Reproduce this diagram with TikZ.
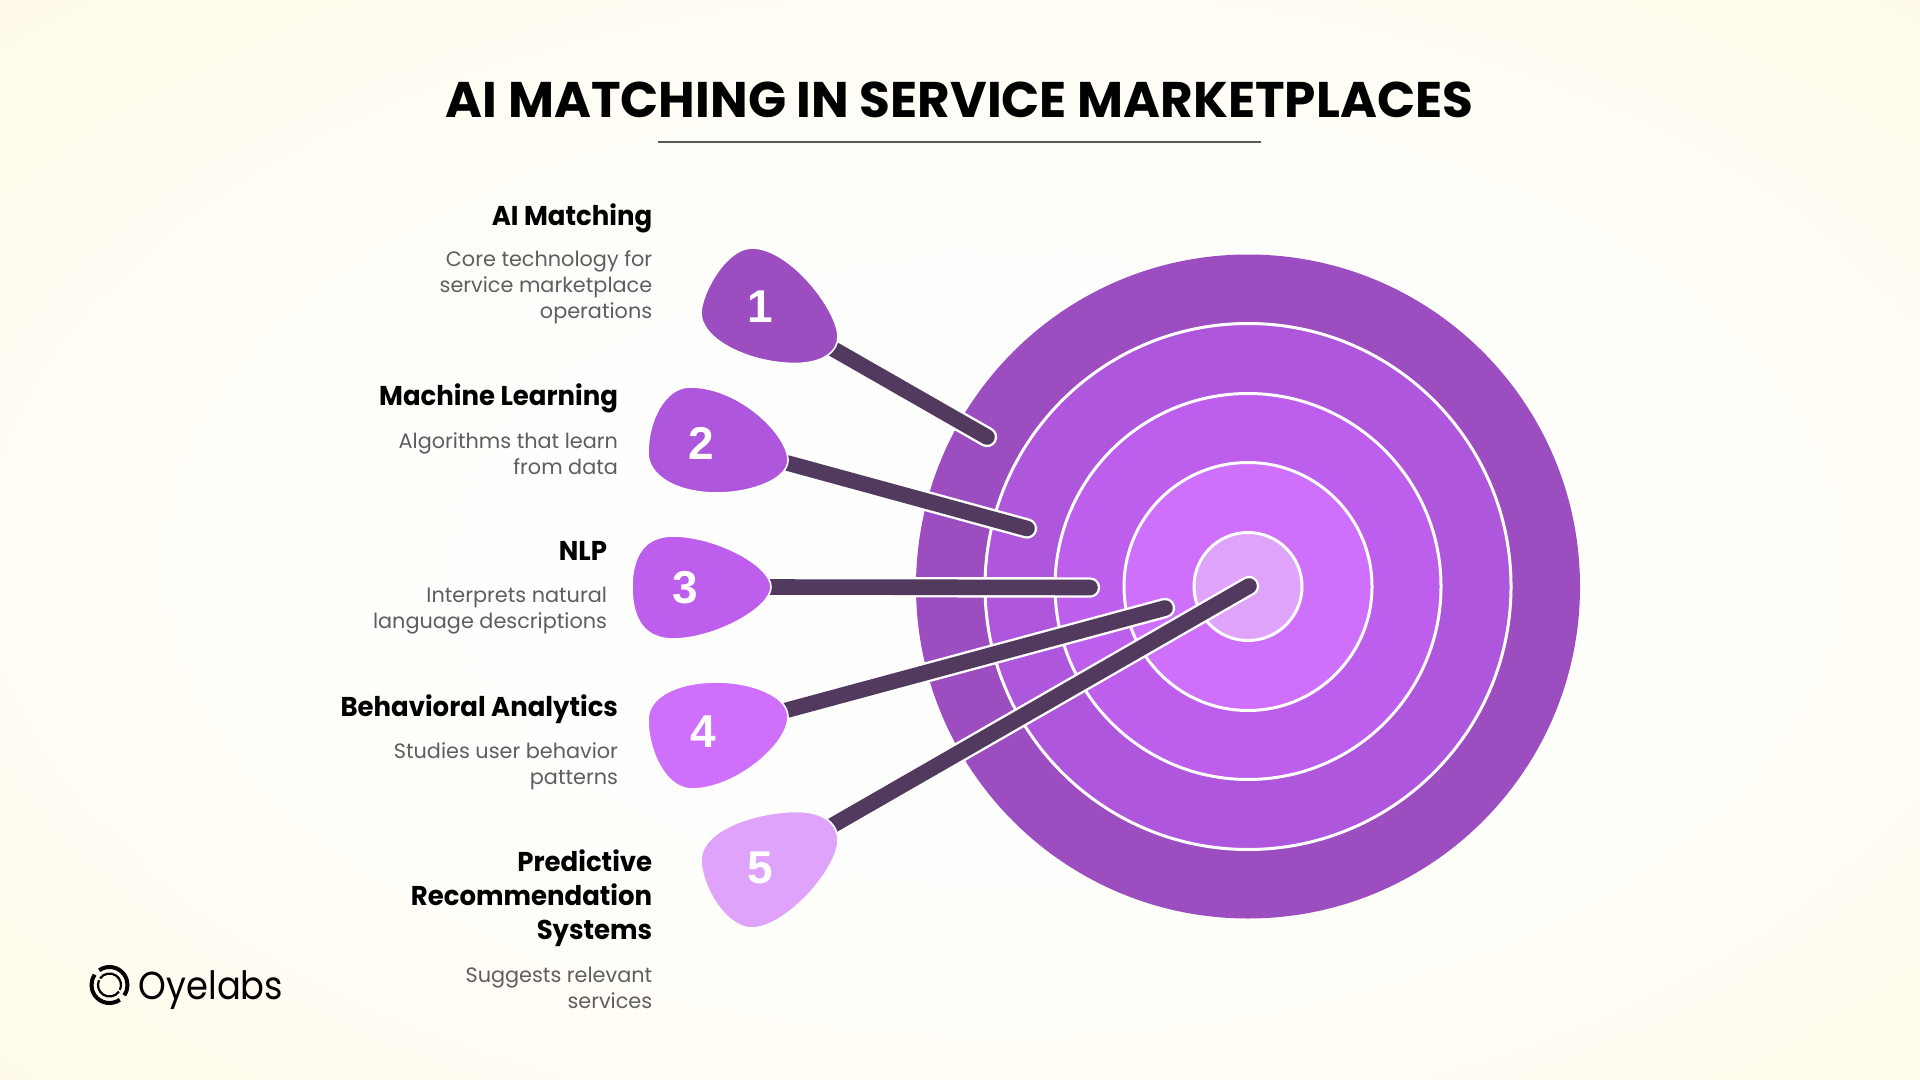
\documentclass[tikz,border=0pt]{standalone}
\usepackage{fontspec}
\setmainfont{Poppins}
\newfontfamily\numfont{Liberation Sans}
\newfontfamily\headfont[FakeStretch=0.955]{Poppins}
\newfontfamily\logofont[FakeStretch=0.905]{Poppins}
\definecolor{bgedge}{HTML}{FFF7DA}
\definecolor{bgouter}{HTML}{FFFBE6}
\definecolor{bgmid}{HTML}{FFFDF3}
\definecolor{bgcore}{HTML}{FEFEFC}
\definecolor{rA}{HTML}{9C4DC0}
\definecolor{rB}{HTML}{AE56DC}
\definecolor{rC}{HTML}{BD5EEC}
\definecolor{rD}{HTML}{CE70FC}
\definecolor{rE}{HTML}{DFA3FC}
\definecolor{shaftc}{HTML}{513A5E}
\definecolor{descc}{HTML}{5E5E5E}
\pgfdeclareradialshading{bgshade}{\pgfpoint{2bp}{-2bp}}{color(0bp)=(bgcore); color(14bp)=(bgcore); color(27bp)=(bgmid); color(37bp)=(bgouter); color(50bp)=(bgedge)}
\tikzset{
  x=0.5pt,y=-0.5pt,
  ring/.style={draw=white,line width=1.5pt},
  shaftline/.style={line width=7.8pt,draw=shaftc,line cap=round},
  shafthalo/.style={line width=10.2pt,draw=white,line cap=round},
  flight/.style={draw=white,line width=0.8pt,line join=round},
  num/.style={font=\numfont\fontsize{23}{23}\selectfont\bfseries,text=white,inner sep=0pt},
  head/.style={anchor=east,align=right,inner sep=0pt,font=\headfont\fontsize{13.6}{17}\selectfont\bfseries,text=black},
  desc/.style={anchor=east,align=right,inner sep=0pt,font=\fontsize{10.4}{13}\selectfont,text=descc},
  logoline/.style={draw=black,line width=2pt,line cap=butt},
  logothin/.style={draw=black,line width=1.1pt,line cap=butt}
}
\begin{document}
\begin{tikzpicture}
\useasboundingbox (0,0) rectangle (1920,1080);
\shade[shading=bgshade] (0,0) rectangle (1920,1080);
% title
\node[inner sep=0pt,font=\fontsize{25.05}{30}\selectfont\bfseries] (title) at (959.5,100) {AI MATCHING IN SERVICE MARKETPLACES};
\coordinate (ruleL) at (657.5,142);
\coordinate (ruleR) at (1261,142);
\draw[draw=black!65,line width=0.55pt] (ruleL) -- (ruleR);
% target
\coordinate (c) at (1248,586.5);
\fill[rA] (c) circle[radius=332];
\fill[ring,fill=rB] (c) circle[radius=263];
\fill[ring,fill=rC] (c) circle[radius=193];
\fill[ring,fill=rD] (c) circle[radius=124];
\fill[ring,fill=rE] (c) circle[radius=54];
% shaft ends
\coordinate (s1) at (828,346); \coordinate (t1) at (987,437);
\coordinate (s2) at (780,461); \coordinate (t2) at (1027,528.5);
\coordinate (s3) at (765,587); \coordinate (t3) at (1090,587.5);
\coordinate (s4) at (780,712); \coordinate (t4) at (1165,608);
\coordinate (s5) at (828,828); \coordinate (t5) at (1249,586);
\foreach \n in {1,...,5}{
  \path[shafthalo,draw=white] (s\n) -- (t\n);
  \draw[shaftline] (s\n) -- (t\n);
}
% flights
\draw[flight,fill=rA] (752,248) .. controls (790,248) and (838,310) .. (838,337) .. controls (838,350) and (825,363.5) .. (795,363.5) .. controls (750,363.5) and (701,340) .. (701,313) .. controls (701,295) and (725,248) .. (752,248) -- cycle;
\draw[flight,fill=rB] (690,387) .. controls (740,387) and (788,435) .. (788,460) .. controls (788,480) and (750,493) .. (717,493) .. controls (675,493) and (648,475) .. (648,453) .. controls (648,420) and (665,387) .. (690,387) -- cycle;
\draw[flight,fill=rC] (673,536) .. controls (715,536) and (771,565) .. (771,587) .. controls (771,608) and (715,639) .. (673,639) .. controls (645,639) and (632,620) .. (632,587) .. controls (632,555) and (645,536) .. (673,536) -- cycle;
\draw[flight,fill=rD] (717,682) .. controls (750,682) and (788,695) .. (788,717) .. controls (788,745) and (735,789) .. (692,789) .. controls (665,789) and (648,750) .. (648,720) .. controls (648,695) and (680,682) .. (717,682) -- cycle;
\draw[flight,fill=rE] (797,811.5) .. controls (825,811.5) and (838,825) .. (838,840) .. controls (838,870) and (785,928) .. (752,928) .. controls (725,928) and (701,885) .. (701,860) .. controls (701,830) and (755,811.5) .. (797,811.5) -- cycle;
% numbers
\node[num] (n1) at (760,307) {1};
\node[num] (n2) at (701.5,443) {2};
\node[num] (n3) at (685.5,588) {3};
\node[num] (n4) at (703,732) {4};
\node[num] (n5) at (760.5,868) {5};
% labels
\node[head] (h1) at (652.6,218) {AI Matching};
\node[desc] (d1) at (652.6,286.8) {Core technology for\\service marketplace\\operations};
\node[head] (h2) at (618.4,398) {Machine Learning};
\node[desc] (d2) at (618.4,453.7) {Algorithms that learn\\from data};
\node[head] (h3) at (607.4,551) {NLP};
\node[desc] (d3) at (607.4,610.5) {Interprets natural\\language descriptions};
\node[head] (h4) at (618.4,709) {Behavioral Analytics};
\node[desc] (d4) at (618.4,766) {Studies user behavior\\patterns};
\node[head] (h5) at (652.6,898.5) {Predictive\\Recommendation\\Systems};
\node[desc] (d5) at (652.6,987.5) {Suggests relevant\\services};
% logo
\coordinate (lg) at (109.5,985);
\draw[logoline] (lg) ++(-125:18) arc[start angle=-125,end angle=35,radius=18];
\draw[logoline] (lg) ++(55:18) arc[start angle=55,end angle=215,radius=18];
\draw[logothin] (lg) ++(-145:11.5) arc[start angle=-145,end angle=25,radius=11.5];
\draw[logothin] (lg) ++(35:11.5) arc[start angle=35,end angle=205,radius=11.5];
\node[anchor=west,inner sep=0pt,font=\logofont\fontsize{19.5}{22}\selectfont] (logotext) at (138.5,990.5) {Oyelabs};
\end{tikzpicture}
\end{document}
